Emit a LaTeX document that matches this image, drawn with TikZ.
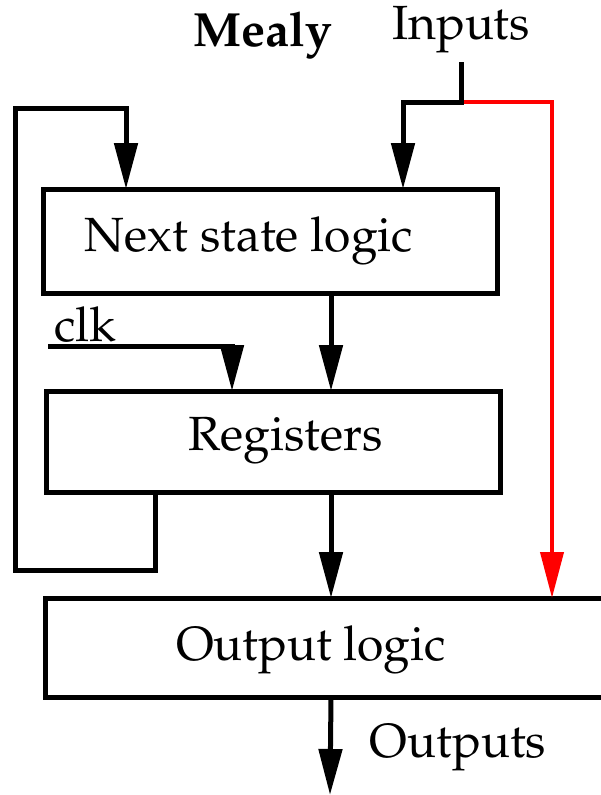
\documentclass[tikz,border=0pt]{standalone}
\usepackage[T1]{fontenc}
\usepackage{mathpazo}
\usetikzlibrary{arrows.meta}
\begin{document}
\begin{tikzpicture}[x=1pt,y=-1pt,line width=5pt,
  blk/.style={draw,line width=5pt,inner sep=0pt,outer sep=0pt},
  lbl/.style={inner sep=0pt,font=\fontsize{48}{54}\selectfont},
  arr/.style={-{Triangle[length=46pt,width=23pt]}},
  redarr/.style={red,line width=4pt,-{Triangle[length=46pt,width=23pt]}}]
\useasboundingbox (0,0) rectangle (601,795);
% blocks
\node[blk,minimum width=454pt,minimum height=104pt] (ns) at (270,241) {};
\node[blk,minimum width=454pt,minimum height=101pt] (reg) at (273,441.5) {};
\node[blk,minimum width=620pt,minimum height=99pt] (out) at (355,647.5) {};
% block texts
\node[lbl] (nstxt) at (249,241) {Next state logic};
\node[lbl] (regtxt) at (285.5,441) {Registers};
\node[lbl] (outtxt) at (311,650) {Output logic};
% labels
\node[lbl,font=\fontsize{48}{54}\selectfont\bfseries] (mealy) at (263,35) {Mealy};
\node[lbl] (inp) at (461,30) {Inputs};
\node[lbl] (clk) at (85,325) {clk};
\node[lbl] (outp) at (458,748) {Outputs};
% helper coordinates
\coordinate (mid) at (331,0);
\coordinate (inTop) at (461,62);
\coordinate (split) at (461,102);
\coordinate (nsIn) at (403,0);
\coordinate (bypass) at (552,0);
\coordinate (fb) at (155,0);
\coordinate (fbA) at (155,570);
\coordinate (fbB) at (15,570);
\coordinate (fbC) at (15,108);
\coordinate (fbIn) at (126,0);
\coordinate (clkA) at (48,346);
\coordinate (clkIn) at (232,0);
\coordinate (outEnd) at (330,795);
% connectors
\draw[arr] (mid |- ns.south) -- (mid |- reg.north);
\draw[arr] (mid |- reg.south) -- (mid |- out.north);
\draw[arr] (mid |- out.south) -- (outEnd);
\draw[redarr] (split) -| (bypass |- out.north);
\draw[arr] (inTop) -- (split) -| (nsIn |- ns.north);
\draw[arr] (fb |- reg.south) -- (fbA) -- (fbB) -- (fbC) -| (fbIn |- ns.north);
\draw[arr] (clkA) -| (clkIn |- reg.north);
\end{tikzpicture}
\end{document}
